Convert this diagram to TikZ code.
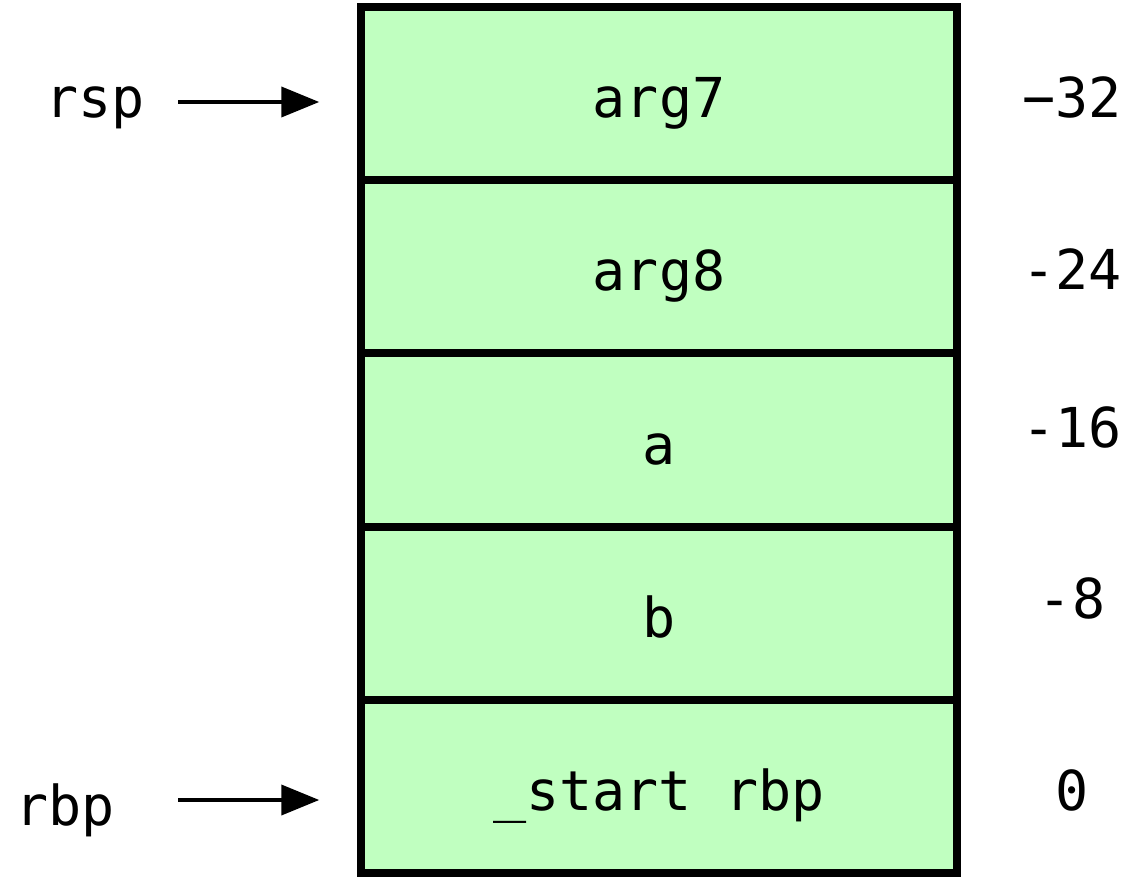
\documentclass[tikz,border=0pt]{standalone}
\usepackage{fontspec}
\setmonofont{DejaVu Sans Mono}
\usetikzlibrary{arrows.meta}
\definecolor{cellgreen}{RGB}{192,255,192}
\tikzset{
  cell/.style={draw=black, line width=7.5pt, fill=cellgreen, rectangle,
    minimum width=596pt, minimum height=173pt, inner sep=0pt,
    text height=48pt, text depth=0pt, font=\ttfamily\fontsize{55pt}{60pt}\selectfont},
  lbl/.style={anchor=base, inner sep=0pt, font=\ttfamily\fontsize{55pt}{60pt}\selectfont},
  arr/.style={line width=4pt, -{Triangle[length=38pt,width=30pt]}, shorten >=38pt}
}
\begin{document}
\begin{tikzpicture}[x=1pt,y=-1pt]
\useasboundingbox (0,0) rectangle (1138,877);
\node[cell] (c1) at (659,93.5) {arg7};
\node[cell] (c2) at (659,266.5) {arg8};
\node[cell] (c3) at (659,440) {a};
\node[cell] (c4) at (659,613.5) {b};
\node[cell] (c5) at (659,786.5) {\_start rbp};
\node[lbl] (o1) at (1072,118) {−32};
\node[lbl] (o2) at (1072,290) {-24};
\node[lbl] (o3) at (1072,447) {-16};
\node[lbl] (o4) at (1072,618) {-8};
\node[lbl] (o5) at (1072,810) {0};
\node[lbl] (rsp) at (95,118) {rsp};
\node[lbl] (rbp) at (65,825) {rbp};
\coordinate (rspfrom) at (178,102);
\coordinate (rbpfrom) at (178,800);
\draw[arr] (rspfrom) -- (rspfrom -| c1.west);
\draw[arr] (rbpfrom) -- (rbpfrom -| c5.west);
\end{tikzpicture}
\end{document}
